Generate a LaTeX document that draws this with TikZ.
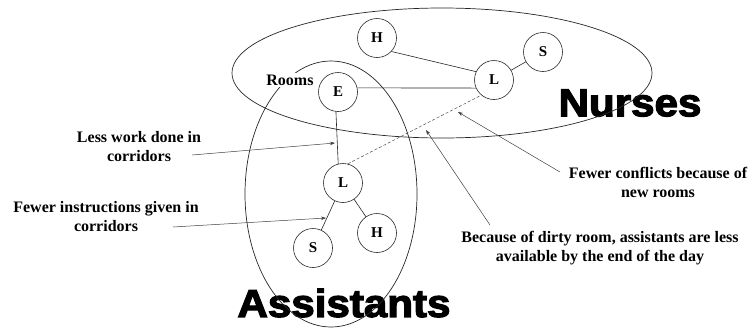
\documentclass[tikz,border=0pt]{standalone}
\usepackage{fontspec}
\usepackage{graphicx}
\setmainfont{Liberation Serif}
\newfontfamily\heavyfont{Liberation Sans}[FakeBold=3]
\usetikzlibrary{arrows.meta,shapes.geometric}

\tikzset{
  conn/.style={line width=0.6pt, draw=black!85},
  person/.style={circle, draw=black!85, line width=0.6pt, minimum size=39pt,
    inner sep=0pt, font=\fontsize{15}{15}\selectfont\bfseries},
  group/.style={ellipse, draw=black!85, line width=0.7pt, inner sep=0pt},
  note/.style={align=center, inner sep=0pt, font=\fontsize{16}{19}\selectfont\bfseries},
  arr/.style={line width=0.5pt, draw=black!75, -{Stealth[length=5pt,width=3.5pt]}},
  grouplabel/.style={inner sep=0pt, font=\fontsize{39}{39}\heavyfont\bfseries},
}

\begin{document}
\begin{tikzpicture}[x=1pt,y=-1pt]
\useasboundingbox (0,0) rectangle (750,330);

% group captions sit under the outlines
\node[grouplabel] (nurseslabel) at (630,103) {\scalebox{1.08}[1]{Nurses}};
\node[grouplabel] (assistantslabel) at (344,303) {\scalebox{1.08}[1]{Assistants}};

% the two staff groups
\node[group, minimum width=420pt, minimum height=130pt] (nurses) at (442,73) {};
\node[group, minimum width=172pt, minimum height=266pt] (assistants) at (331,194) {};

\node[note, fill=white, inner sep=2pt] (rooms) at (290,80) {Rooms};

% nurses network
\node[person] (nH) at (377,38) {H};
\node[person] (nL) at (494,80) {L};
\node[person] (nS) at (543,52) {S};
\node[person] (E)  at (338,92) {E};

% assistants network
\node[person] (aL) at (343,183) {L};
\node[person] (aS) at (313,248) {S};
\node[person] (aH) at (377,233) {H};

\draw[conn] (nH.317) -- (nL.155);
\draw[conn] (nL) -- (nS);
\draw[conn] (E.12) -- (nL.204);
\draw[conn] (E.264) -- (aL.104);
\draw[conn, line width=0.5pt, draw=black!70, dash pattern=on 3pt off 2pt] (aL.76) -- (nL.230);
\draw[conn] (aL) -- (aS);
\draw[conn] (aL) -- (aH);

% annotations
\node[note] (lesswork) at (139,147) {Less work done in\\corridors};
\node[note] (fewerinstr) at (106,217) {Fewer instructions given in\\corridors};
\node[note] (conflicts) at (658,182) {Fewer conflicts because of\\new rooms};
\node[note] (dirty) at (600,248) {Because of dirty room, assistants are less\\available by the end of the day};

\coordinate (lwfrom) at (192,155);
\coordinate (lwto) at (335,143);
\coordinate (fifrom) at (173,227);
\coordinate (fito) at (326,218);
\coordinate (cffrom) at (560,172);
\coordinate (cfto) at (458,112);
\coordinate (drfrom) at (490,225);
\coordinate (drto) at (426,130);

\draw[arr] (lwfrom) -- (lwto);
\draw[arr] (fifrom) -- (fito);
\draw[arr] (cffrom) -- (cfto);
\draw[arr] (drfrom) -- (drto);
\end{tikzpicture}
\end{document}
